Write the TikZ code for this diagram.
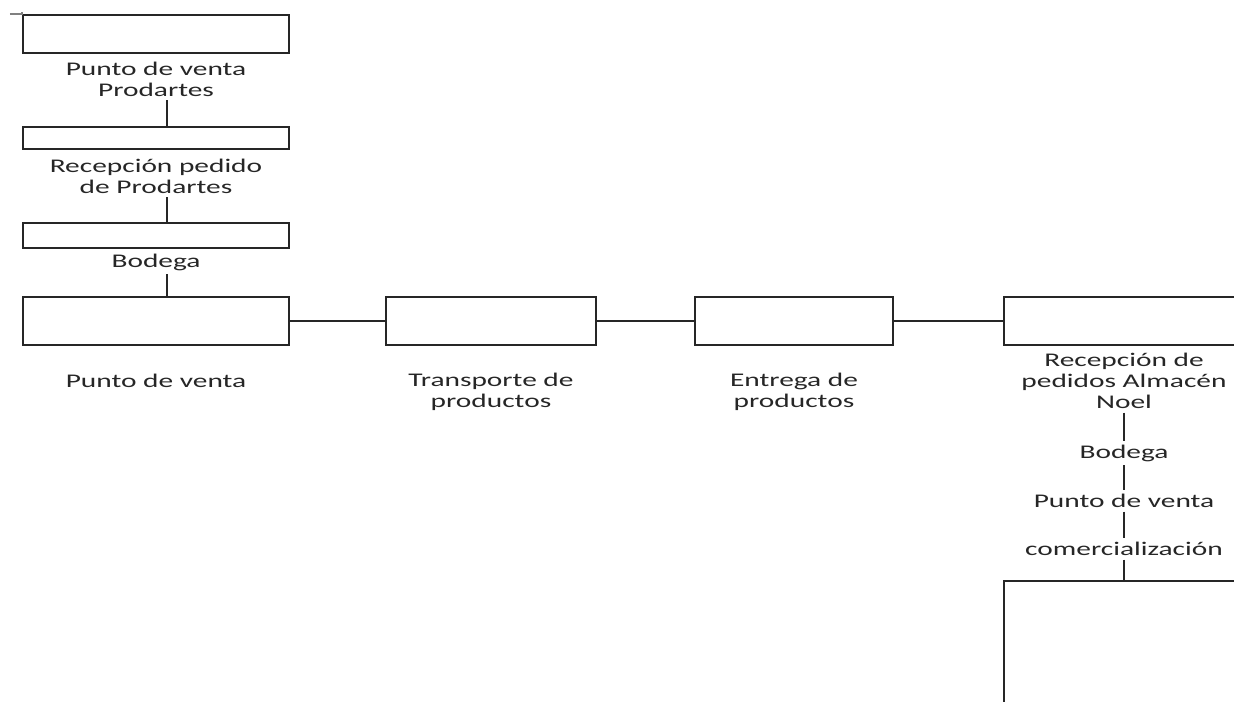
\documentclass[tikz,border=0pt]{standalone}
\usepackage{fontspec}
\setmainfont{Carlito}[FakeStretch=1.52]
\usetikzlibrary{positioning}

\begin{document}
\begin{tikzpicture}[
    node distance=1cm,
    box/.style={rectangle, draw=black!85, line width=1pt, inner sep=0pt, minimum width=5.32cm},
    lbl/.style={align=center, text=black!85, font=\fontsize{11}{12}\selectfont, inner sep=2pt},
    line/.style={draw=black!85, line width=1pt}
]
\useasboundingbox (0,0) rectangle (24.68,-14.02);
\clip (0,0) rectangle (24.68,-14.02);
% left column
\node (pvP) [box, minimum height=0.76cm] at (3.12,-0.68) {};
\node (pvPtxt) [lbl, below of=pvP, yshift=0.1cm] {Punto de venta\\Prodartes};
\node (recP) [box, minimum height=0.44cm, below of=pvPtxt, yshift=-0.18cm] {};
\node (recPtxt) [lbl, below of=recP, yshift=0.24cm] {Recepción pedido\\de Prodartes};
\node (bodP) [box, minimum height=0.5cm, below of=recPtxt, yshift=-0.19cm] {};
\node (bodPtxt) [lbl, below of=bodP, yshift=0.47cm] {Bodega};
% main row
\node (pv) [box, minimum height=0.96cm, below of=bodPtxt, yshift=-0.18cm] {};
\node (pvtxt) [lbl, below of=pv, yshift=-0.2cm] {Punto de venta};
\node (trans) [box, minimum width=4.2cm, minimum height=0.96cm, right of=pv, xshift=5.7cm] {};
\node (transtxt) [lbl, below of=trans, yshift=-0.42cm] {Transporte de\\productos};
\node (entrega) [box, minimum width=3.96cm, minimum height=0.96cm, right of=trans, xshift=5.06cm] {};
\node (entregatxt) [lbl, below of=entrega, yshift=-0.42cm] {Entrega de\\productos};
\node (recA) [box, minimum width=4.8cm, minimum height=0.96cm, right of=entrega, xshift=5.6cm] {};
\node (recAtxt) [lbl, below of=recA, yshift=-0.2cm] {Recepción de\\pedidos Almacén\\Noel};
% right column
\node (bodN) [lbl, below of=recAtxt, yshift=-0.44cm] {Bodega};
\node (pvN) [lbl, below of=bodN, yshift=0.04cm] {Punto de venta};
\node (comN) [lbl, below of=pvN, yshift=0.04cm] {comercialización};
\node (comBox) [box, minimum width=4.8cm, minimum height=4cm, below of=comN, yshift=-1.64cm] {};
% connectors
\draw [line] ([xshift=0.22cm]pvPtxt.south) -- ([xshift=0.22cm]recP.north);
\draw [line] ([xshift=0.22cm]recPtxt.south) -- ([xshift=0.22cm]bodP.north);
\draw [line] ([xshift=0.22cm]bodPtxt.south) -- ([xshift=0.22cm]pv.north);
\draw [line] (pv) -- (trans);
\draw [line] (trans) -- (entrega);
\draw [line] (entrega) -- (recA);
\draw [line] (recAtxt) -- (bodN);
\draw [line] (bodN) -- (pvN);
\draw [line] (pvN) -- (comN);
\draw [line] (comN) -- (comBox);
% corner mark
\draw [gray, line width=0.6pt] (0.2,-0.28) -- (0.44,-0.28) -- (0.44,-0.23);
\end{tikzpicture}
\end{document}
